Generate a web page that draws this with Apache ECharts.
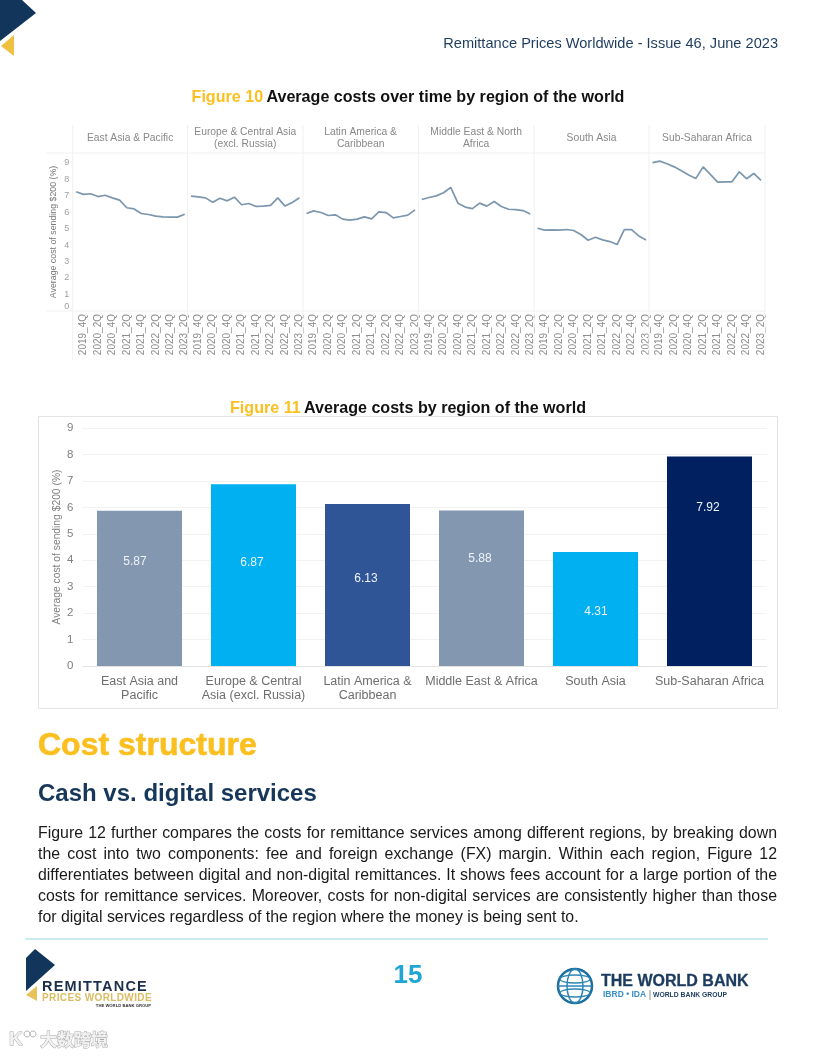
<!DOCTYPE html>
<html><head><meta charset="utf-8">
<script src="https://cdn.jsdelivr.net/npm/echarts@6/dist/echarts.min.js"></script>
<style>
html,body{margin:0;padding:0;background:#fff}
#page{position:relative;width:816px;height:1056px;overflow:hidden}
#c{position:absolute;left:0;top:0;width:816px;height:1056px}
#para{position:absolute;left:38px;top:822px;width:739px;font:15.9px/21px "Liberation Sans",Arial,sans-serif;color:#1a1a1a}
#para div{text-align:justify;text-align-last:justify;white-space:nowrap}
#para div:last-child{text-align-last:left}
.logo{position:absolute;left:42px;white-space:nowrap;font-family:"Liberation Sans",Arial,sans-serif;font-weight:bold}
#l1{top:978px;font-size:14.5px;line-height:16px;letter-spacing:1.2px;color:#1b2f4a}
#l2{top:992px;font-size:10px;line-height:12px;letter-spacing:0.38px;color:#dcbc62}
</style></head><body>
<div id="page"><div id="c"></div>
<div class="logo" id="l1">REMITTANCE</div>
<div class="logo" id="l2">PRICES WORLDWIDE</div>
<div id="para">
<div>Figure 12 further compares the costs for remittance services among different regions, by breaking down</div>
<div>the cost into two components: fee and foreign exchange (FX) margin. Within each region, Figure 12</div>
<div>differentiates between digital and non-digital remittances. It shows fees account for a large portion of the</div>
<div>costs for remittance services. Moreover, costs for non-digital services are consistently higher than those</div>
<div>for digital services regardless of the region where the money is being sent to.</div>
</div></div>
<script>
const quarters = ['2019_3Q','2019_4Q','2020_1Q','2020_2Q','2020_3Q','2020_4Q','2021_1Q','2021_2Q','2021_3Q','2021_4Q','2022_1Q','2022_2Q','2022_3Q','2022_4Q','2023_1Q','2023_2Q'];
const panelTitles = ['East Asia & Pacific','Europe & Central Asia\n(excl. Russia)','Latin America &\nCaribbean','Middle East & North\nAfrica','South Asia','Sub-Saharan Africa'];
const eastAsia   = [7.23,7.07,7.11,6.94,7.02,6.86,6.72,6.26,6.19,5.91,5.85,5.75,5.71,5.69,5.69,5.87];
const europe     = [6.96,6.92,6.86,6.60,6.84,6.68,6.90,6.44,6.52,6.34,6.36,6.40,6.86,6.36,6.58,6.87];
const latam      = [5.91,6.07,5.97,5.79,5.83,5.57,5.51,5.57,5.71,5.59,6.01,5.97,5.65,5.73,5.81,6.13];
const midEast    = [6.76,6.88,6.98,7.17,7.49,6.54,6.30,6.21,6.54,6.36,6.64,6.34,6.17,6.15,6.09,5.88];
const southAsia  = [5.02,4.90,4.92,4.90,4.94,4.88,4.64,4.29,4.47,4.31,4.21,4.03,4.94,4.94,4.55,4.31];
const subSaharan = [9.00,9.09,8.93,8.74,8.50,8.24,8.04,8.74,8.28,7.81,7.83,7.83,8.44,8.02,8.34,7.92];
const panelSeries = [eastAsia,europe,latam,midEast,southAsia,subSaharan];

const barCategories = ['East Asia and\nPacific','Europe & Central\nAsia (excl. Russia)','Latin America &\nCaribbean','Middle East & Africa','South Asia','Sub-Saharan Africa'];
const barValues = [5.87,6.87,6.13,5.88,4.31,7.92];

const barColors = ['#8497b0','#00b0f0','#2f5597','#8497b0','#00b0f0','#002060'];
const barLabelOffsets = [[-4.5,-27],[-1.5,-12],[-1.5,-6],[-1.5,-30],[0.5,3],[-1.5,-54]];
const panelEdges = [72.7,187.5,303,418.3,534,649,765];
const F = '"Liberation Sans",Arial,sans-serif';

const grids=[],xAxes=[],yAxes=[],series=[];
panelSeries.forEach((vals,i)=>{
  grids.push({left:panelEdges[i]+3.5,top:153,width:108.5,height:158});
  xAxes.push({type:'category',gridIndex:i,data:quarters,boundaryGap:false,
    axisLine:{show:false},axisTick:{show:false},splitLine:{show:false},
    axisLabel:{rotate:90,interval:(idx)=>idx%2===1,color:'#8c8c8c',fontSize:10,fontFamily:F,margin:3,hideOverlap:false}});
  yAxes.push({type:'value',gridIndex:i,min:0,max:9.58,interval:1,show:i===0,
    name:i===0?'Average cost of sending $200 (%)':'',nameLocation:'middle',nameGap:18.5,nameMoveOverlap:false,
    nameTextStyle:{color:'#777',fontSize:8.8,fontFamily:F},
    axisLine:{show:false},axisTick:{show:false},splitLine:{show:false},
    axisLabel:{color:'#a0a0a0',fontSize:9,fontFamily:F,margin:7,showMaxLabel:false,verticalAlignMinLabel:'bottom'}});
  series.push({type:'line',xAxisIndex:i,yAxisIndex:i,data:vals,symbol:'none',silent:true,
    lineStyle:{color:'#7b96ad',width:1.7}});
});
grids.push({left:82.5,top:428,width:684,height:238});
xAxes.push({type:'category',gridIndex:6,data:barCategories,
  axisLine:{lineStyle:{color:'#e2e2e2'}},axisTick:{show:false},
  axisLabel:{color:'#6e6e6e',fontSize:12.5,lineHeight:14,fontFamily:F,margin:9,interval:0}});
yAxes.push({type:'value',gridIndex:6,min:0,max:9,interval:1,
  name:'Average cost of sending $200 (%)',nameLocation:'middle',nameGap:20,nameMoveOverlap:false,
  nameTextStyle:{color:'#808080',fontSize:10.3,fontFamily:F},
  axisLine:{show:false},axisTick:{show:false},
  splitLine:{lineStyle:{color:'#f2f2f2'}},
  axisLabel:{color:'#808080',fontSize:11.5,fontFamily:F,margin:9}});
series.push({type:'bar',xAxisIndex:6,yAxisIndex:6,barWidth:85,silent:true,
  data:barValues.map((v,i)=>({value:v,itemStyle:{color:barColors[i]},
    label:{show:true,position:'inside',offset:barLabelOffsets[i],color:'#eef3f8',fontSize:12,fontFamily:F}}))});

const txt=(text,x,y,font,fill,align,extra)=>({type:'text',z:20,silent:true,style:Object.assign({text,x,y,font,fill,align:align||'left',verticalAlign:'middle'},extra||{})});
const line=(x1,y1,x2,y2,c,w,z)=>({type:'line',silent:true,z:z||1,shape:{x1,y1,x2,y2},style:{stroke:c,lineWidth:w||1}});
const poly=(pts,fill)=>({type:'polygon',silent:true,z:5,shape:{points:pts},style:{fill}});
const ell=(cx,cy,rx,ry,c,w)=>({type:'ellipse',silent:true,z:5,shape:{cx,cy,rx,ry},style:{fill:'none',stroke:c,lineWidth:w}});

const graphics=[
  poly([[0,0],[22,0],[36,13],[0,41]],'#12355b'),
  poly([[14,35],[1,46],[14,56]],'#f0c040'),
  txt('Remittance Prices Worldwide - Issue 46, June 2023',778,43.5,'14.6px '+F,'#1d3c5e','right'),
  {type:'text',z:20,silent:true,style:{x:408,y:98,align:'center',verticalAlign:'middle',
    text:'{a|Figure 10} {b|Average costs over time by region of the world}',
    rich:{a:{font:'bold 16.1px '+F,fill:'#fbbf1f'},b:{font:'bold 16.1px '+F,fill:'#111'}}}},
  {type:'text',z:0,silent:true,style:{x:408,y:409,align:'center',verticalAlign:'middle',
    text:'{a|Figure 11} {b|Average costs by region of the world}',
    rich:{a:{font:'bold 16.1px '+F,fill:'#fbbf1f'},b:{font:'bold 16.1px '+F,fill:'#111'}}}},
  {type:'rect',silent:true,z:0,shape:{x:38.5,y:416.5,width:739,height:292},style:{fill:'#fff',stroke:'#e4e4e4',lineWidth:1}},
  line(46,153,765,153,'#f0f0f0'),line(46,311,765,311,'#f0f0f0'),
  txt('Cost structure',38,746,'bold 32px '+F,'#fbbf1f','left',{stroke:'#fbbf1f',lineWidth:0.6}),
  txt('Cash vs. digital services',38,794,'bold 24px '+F,'#16365a'),
  line(25,939,768,939,'#b7e3ea',1.5),
  txt('15',408,976,'bold 26px '+F,'#1fa6d4','center'),
  poly([[35,949],[55,965],[26,991],[26,958]],'#12355b'),
  poly([[37,986],[26,995],[37,1001]],'#e8c25a'),
  txt('THE WORLD BANK GROUP',151,1006,'bold 4.2px '+F,'#333','right'),
  ell(575,986,17,17,'#1c6f9e',2.5),
  ell(575,986,8,17,'#2c86b5',1.5),
  ell(575,979,15,4,'#2c86b5',1.3),
  ell(575,993,15,4,'#2c86b5',1.3),
  line(558,986,592,986,'#2c86b5',1.3,5),
  txt('THE WORLD BANK',601,982,'bold 16px '+F,'#1c3b5e','left',{stroke:'#1c3b5e',lineWidth:0.3}),
  txt('IBRD • IDA',603,995,'bold 8.5px '+F,'#3a8fc4'),
  line(650,990,650,1000,'#777',0.8,5),
  txt('WORLD BANK GROUP',653,995,'bold 6.8px '+F,'#1c3b5e'),
  txt('大数跨境',40,1040,'bold 17px "Noto Sans CJK SC"','#f2f2f2','left',{stroke:'#a9a9a9',lineWidth:1}),
  txt('K',9,1040,'bold 19px '+F,'#f2f2f2','left',{stroke:'#a9a9a9',lineWidth:1}),
  ell(27,1034,3,3,'#b5b5b5',1),ell(33,1034,3,3,'#b5b5b5',1)
];
panelEdges.forEach(x=>graphics.push(line(x,125,x,360,'#f0f0f0')));
panelTitles.forEach((t,i)=>{
  graphics.push({type:'text',z:20,silent:true,style:{text:t,x:(panelEdges[i]+panelEdges[i+1])/2,y:138.5,
    font:'10.3px '+F,fill:'#888',align:'center',verticalAlign:'middle',lineHeight:12}});
});

echarts.init(document.getElementById('c')).setOption({
  animation:false,backgroundColor:'#fff',
  grid:grids,xAxis:xAxes,yAxis:yAxes,series:series,graphic:{elements:graphics}
});
</script></body></html>
